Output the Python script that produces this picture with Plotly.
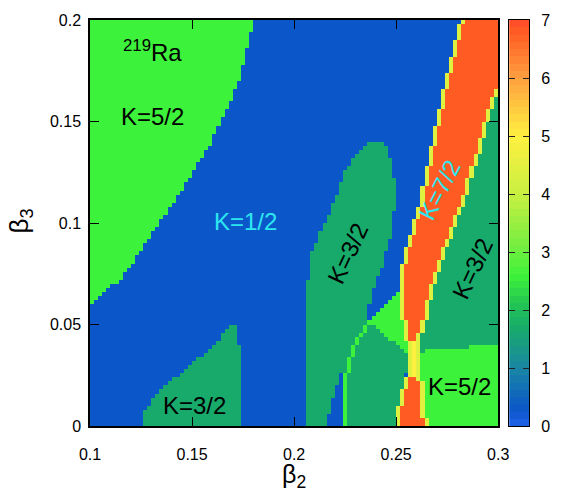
import numpy as np
import plotly.graph_objects as go

# ---------------- data ----------------
# Region values (colour-scale values used for each K region)
VAL_K12 = 0.28     # K=1/2 (blue)
VAL_K32 = 1.68     # K=3/2 (dark green)
VAL_K52 = 2.59     # K=5/2 (bright green)
VAL_K72 = 6.79     # K=7/2 (red)
VAL_EDGE = 4.4     # transition fringe around K=7/2
VAL_NECK = 5.0     # narrow crossing

# beta2 / beta3 sampling of the map
beta2_step = 0.002
beta3_step = 0.002
beta2_min, beta2_max = 0.1, 0.3
beta3_min, beta3_max = 0.0, 0.2

# Region boundaries (beta2, beta3)
topleft_k52_b2 = [0.09, 0.099, 0.1039, 0.1146, 0.1268, 0.1370, 0.1477, 0.1584, 0.1657, 0.1730, 0.1769, 0.1803, 0.1803, 0.09]
topleft_k52_b3 = [0.0597, 0.0597, 0.0626, 0.0723, 0.0888, 0.1049, 0.1209, 0.1374, 0.1534, 0.1694, 0.1859, 0.2, 0.21, 0.21]

lowleft_k32_b2 = [0.1681, 0.1720, 0.1730, 0.1740, 0.1745, 0.1745, 0.1243, 0.1258, 0.1326, 0.1472, 0.1599]
lowleft_k32_b3 = [0.0500, 0.0505, 0.0393, 0.0223, 0.0, -0.01, -0.01, 0.0063, 0.0160, 0.0286, 0.0383]

mid_k32_b2 = [0.2370, 0.2314, 0.2251, 0.2192, 0.2124, 0.2090, 0.2075, 0.2056, 0.2056, 0.2518,
              0.2547, 0.2572, 0.2363, 0.2353, 0.2372, 0.2397, 0.2426, 0.2450, 0.2479, 0.2494,
              0.2489, 0.2465, 0.2436]
mid_k32_b3 = [0.1400, 0.1345, 0.1257, 0.1097, 0.0937, 0.0854, 0.0772, 0.0612, -0.01, -0.01,
              0.0238, 0.0345, 0.0515, 0.0549, 0.0612, 0.0709, 0.0772, 0.0854, 0.0937, 0.1097,
              0.1257, 0.1345, 0.1400]

right_k32_b2 = [0.31, 0.2995, 0.2956, 0.2888, 0.2815, 0.2723, 0.2669, 0.2630, 0.2596, 0.2580, 0.2620, 0.3, 0.31]
right_k32_b3 = [0.172, 0.168, 0.1583, 0.1340, 0.1097, 0.0854, 0.0694, 0.0529, 0.0417, 0.0369, 0.0369, 0.0403, 0.0403]

lowright_k52_b2 = [0.2557, 0.2620, 0.3, 0.31, 0.31, 0.2557]
lowright_k52_b3 = [0.0359, 0.0369, 0.0403, 0.0403, -0.01, -0.01]

triangle_k52_b2 = [0.2363, 0.2513, 0.2533, 0.2547, 0.2572, 0.2572]
triangle_k52_b3 = [0.0515, 0.0665, 0.0612, 0.0529, 0.0417, 0.0345]

wedge_k12_b2 = [0.2124, 0.2236, 0.2236, 0.2225]
wedge_k12_b3 = [-0.01, -0.01, 0.0250, 0.0255]

arc_k52_b2 = [0.2255, 0.2255, 0.2265, 0.2275, 0.2290, 0.2314, 0.2338, 0.2363]
arc_k52_b3 = [0.0, 0.0223, 0.0286, 0.0320, 0.0369, 0.0427, 0.0466, 0.0515]

red_up_b2 = [0.2840, 0.2733, 0.2633, 0.2562, 0.2530, 0.2550, 0.2567, 0.2596, 0.2630, 0.2669,
             0.2723, 0.2815, 0.2888, 0.2956, 0.2995, 0.3044, 0.3044]
red_up_b3 = [0.2019, 0.1583, 0.1097, 0.0854, 0.0694, 0.0529, 0.0427, 0.0427, 0.0529, 0.0694,
             0.0854, 0.1097, 0.1340, 0.1583, 0.1680, 0.1777, 0.2019]

red_low_b2 = [0.2557, 0.2606, 0.2620, 0.2635, 0.2635, 0.2509, 0.2509, 0.2523, 0.2543]
red_low_b3 = [0.0238, 0.0238, 0.0141, 0.0, -0.01, -0.01, 0.0, 0.0078, 0.0141]

neck_b2 = [0.2580, 0.2598, 0.2598, 0.2580]
neck_b3 = [0.0427, 0.0427, 0.0238, 0.0238]

# colour bar: range, band size, ticks
cbar_min, cbar_max, cbar_band = 0, 7, 0.125
colorbar_ticks = [0, 1, 2, 3, 4, 5, 6, 7]
x_ticks = [0.1, 0.15, 0.2, 0.25, 0.3]
x_ticktext = ["0.1", "0.15", "0.2", "0.25", "0.3"]
y_ticks = [0, 0.05, 0.1, 0.15, 0.2]
y_ticktext = ["0", "0.05", "0.1", "0.15", "0.2"]

labels = [
    # text, beta2, beta3, colour, angle
    ("K=5/2", 0.1307, 0.1525, "black", 0),
    ("K=1/2", 0.1764, 0.1005, "#2ee6f0", 0),
    ("K=3/2", 0.2262, 0.0850, "black", -65),
    ("K=7/2", 0.2710, 0.1160, "#2ee6f0", -63),
    ("K=3/2", 0.2875, 0.0775, "black", -65),
    ("K=3/2", 0.1511, 0.0102, "black", 0),
    ("K=5/2", 0.2810, 0.0194, "black", 0),
]

# ---------------- build map ----------------
b2 = np.arange(beta2_min + beta2_step / 2, beta2_max, beta2_step)
b3 = np.arange(beta3_min + beta3_step / 2, beta3_max, beta3_step)
X, Y = np.meshgrid(b2, b3)


def inpoly(X, Y, px, py):
    px = np.asarray(px, float)
    py = np.asarray(py, float)
    inside = np.zeros(X.shape, bool)
    n = len(px)
    j = n - 1
    for i in range(n):
        xi, yi, xj, yj = px[i], py[i], px[j], py[j]
        dy = yj - yi
        if dy == 0:
            j = i
            continue
        cond = ((yi > Y) != (yj > Y)) & (X < (xj - xi) * (Y - yi) / dy + xi)
        inside ^= cond
        j = i
    return inside


Z = np.full(X.shape, VAL_K12)
Z[inpoly(X, Y, topleft_k52_b2, topleft_k52_b3)] = VAL_K52
Z[inpoly(X, Y, lowleft_k32_b2, lowleft_k32_b3)] = VAL_K32
Z[inpoly(X, Y, mid_k32_b2, mid_k32_b3)] = VAL_K32
Z[inpoly(X, Y, right_k32_b2, right_k32_b3)] = VAL_K32
Z[inpoly(X, Y, lowright_k52_b2, lowright_k52_b3)] = VAL_K52
Z[inpoly(X, Y, triangle_k52_b2, triangle_k52_b3)] = VAL_K52
Z[inpoly(X, Y, wedge_k12_b2, wedge_k12_b3)] = VAL_K12

# thin arc of K=5/2
for r, yv in enumerate(b3):
    if yv <= max(arc_k52_b3):
        xv = np.interp(yv, arc_k52_b3, arc_k52_b2)
        c = int((xv - beta2_min) / beta2_step)
        if 0 <= c < len(b2):
            Z[r, c] = VAL_K52

red = inpoly(X, Y, red_up_b2, red_up_b3) | inpoly(X, Y, red_low_b2, red_low_b3)
neck = inpoly(X, Y, neck_b2, neck_b3) & ~red
core = red | neck
dil = core.copy()
dil[:, 1:] |= core[:, :-1]
dil[:, :-1] |= core[:, 1:]
dil[1:, :] |= core[:-1, :]
dil[:-1, :] |= core[1:, :]
Z[dil & ~core] = VAL_EDGE
Z[neck] = VAL_NECK
Z[red] = VAL_K72

colorscale = [
    [0.0, "#1f62ea"],
    [0.04, "#0b57c9"],
    [1 / 7, "#1a86a4"],
    [0.24, "#17aa6a"],
    [0.30, "#22c454"],
    [0.37, "#3df23a"],
    [0.43, "#6cee40"],
    [4 / 7, "#c8f040"],
    [5 / 7, "#fff040"],
    [6 / 7, "#ffa040"],
    [0.97, "#ff5b23"],
    [1.0, "#ff4a2a"],
]

FONT = "Liberation Sans, Arial, Helvetica, sans-serif"

# plot geometry: main map 90..501 px, colour bar 512..532 px
W, H = 562, 489
ML, MR, MT, MB = 90, 30, 14, 63
plot_w = W - ML - MR
main_dom = [0, (501 - ML) / plot_w]
cbar_dom = [(512 - ML) / plot_w, 1.0]

fig = go.Figure()
fig.add_trace(go.Heatmap(
    x=b2, y=b3, z=Z, zmin=cbar_min, zmax=cbar_max, colorscale=colorscale, zsmooth=False,
    hoverinfo="skip", showscale=False, xaxis="x", yaxis="y",
))

# colour bar drawn as its own banded strip
cb_levels = np.arange(cbar_min + cbar_band / 2, cbar_max, cbar_band)
fig.add_trace(go.Heatmap(
    x=[0], y=cb_levels, z=cb_levels.reshape(-1, 1), zmin=cbar_min, zmax=cbar_max,
    colorscale=colorscale, zsmooth=False, hoverinfo="skip", showscale=False,
    xaxis="x2", yaxis="y2",
))

annotations = []
for text, xv, yv, col, ang in labels:
    annotations.append(dict(x=xv, y=yv, xref="x", yref="y", text=text, showarrow=False,
                            xanchor="center", yanchor="middle",
                            textangle=ang, font=dict(family=FONT, size=24, color=col)))
annotations.append(dict(x=0.1307, y=0.1845, xref="x", yref="y", text="<sup>219</sup>Ra",
                        showarrow=False, xanchor="center", yanchor="middle",
                        font=dict(family=FONT, size=24, color="black")))
annotations.append(dict(x=0.2, y=-0.1225, xref="x", yref="paper", text="β<sub>2</sub>",
                        showarrow=False, xanchor="center", yanchor="middle",
                        font=dict(family=FONT, size=25, color="black")))
annotations.append(dict(x=(20 - ML) / plot_w, y=0.505, xref="paper", yref="paper",
                        text="β<sub>3</sub>", showarrow=False, textangle=-90,
                        xanchor="center", yanchor="middle",
                        font=dict(family=FONT, size=26, color="black")))

axis_common = dict(showline=True, linecolor="black", linewidth=1.5, mirror="allticks",
                   ticks="inside", ticklen=9, tickwidth=1.2, tickcolor="black",
                   showgrid=False, zeroline=False,
                   tickfont=dict(family=FONT, size=16, color="black"))

fig.update_layout(
    width=W, height=H,
    margin=dict(l=ML, r=MR, t=MT, b=MB),
    paper_bgcolor="white", plot_bgcolor="white",
    xaxis=dict(domain=main_dom, range=[beta2_min, beta2_max], tickvals=x_ticks,
               ticktext=x_ticktext, ticklabelstandoff=13, **axis_common),
    yaxis=dict(domain=[0, 1], range=[beta3_min, beta3_max], tickvals=y_ticks,
               ticktext=y_ticktext, ticklabelstandoff=4, **axis_common),
    xaxis2=dict(domain=cbar_dom, range=[-0.5, 0.5], anchor="y2", showline=True,
                linecolor="black", linewidth=1.2, mirror=True, ticks="",
                showticklabels=False, showgrid=False, zeroline=False, fixedrange=True),
    yaxis2=dict(domain=[0, 1], range=[cbar_min, cbar_max], anchor="x2", side="right",
                tickvals=colorbar_ticks, showline=True, linecolor="black", linewidth=1.2,
                mirror="allticks", ticks="inside", ticklen=6, tickwidth=1.2,
                tickcolor="#222222", showgrid=False, zeroline=False, ticklabelstandoff=8,
                tickfont=dict(family=FONT, size=16, color="black"), fixedrange=True),
    annotations=annotations,
    showlegend=False,
)

fig.write_html("out.html")
